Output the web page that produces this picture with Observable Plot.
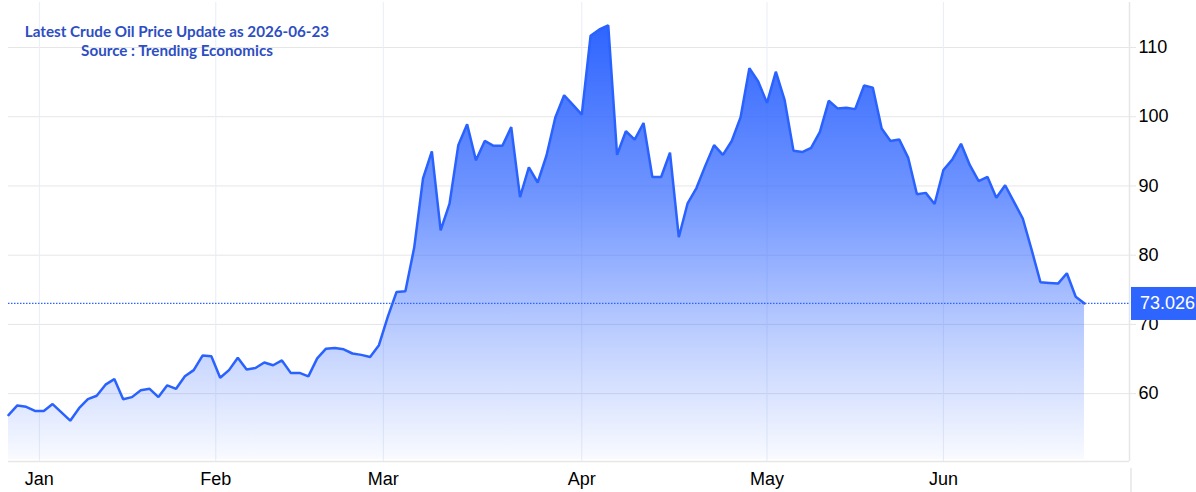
<!DOCTYPE html>
<html>
<head>
<meta charset="utf-8">
<script src="https://cdn.jsdelivr.net/npm/d3@7"></script>
<script src="https://cdn.jsdelivr.net/npm/@observablehq/plot@0.6"></script>
<style>
  html, body { margin: 0; padding: 0; background: #fff; }
  #chart { width: 1196px; height: 492px; }
</style>
</head>
<body>
<div id="chart"></div>
<script>
// Daily crude oil prices (trading days, late Dec 2025 – 2026-06-23)
const prices = [
  56.9, 58.3, 58.1, 57.5, 57.5, 58.5, 57.3, 56.1, 57.9, 59.2,
  59.7, 61.3, 62.1, 59.2, 59.5, 60.5, 60.7, 59.5, 61.2, 60.7,
  62.5, 63.4, 65.5, 65.4, 62.3, 63.4, 65.2, 63.5, 63.7, 64.5,
  64.1, 64.8, 63.0, 63.0, 62.5, 65.1, 66.5, 66.6, 66.4, 65.8,
  65.6, 65.3, 67.0, 71.1, 74.7, 74.8, 81.1, 91.1, 95.0, 83.6,
  87.4, 95.9, 98.9, 93.7, 96.5, 95.8, 95.8, 98.5, 88.4, 92.7,
  90.5, 94.4, 99.9, 103.1, 101.7, 100.3, 111.7, 112.6, 113.2, 94.5,
  97.9, 96.7, 99.1, 91.3, 91.3, 94.8, 82.6, 87.5, 89.7, 92.9,
  95.9, 94.5, 96.5, 99.9, 107.0, 105.1, 102.0, 106.5, 102.4, 95.1,
  94.9, 95.5, 97.8, 102.3, 101.2, 101.3, 101.1, 104.5, 104.2, 98.3,
  96.5, 96.7, 94.1, 88.8, 89.0, 87.4, 92.3, 93.8, 96.1, 93.0,
  90.7, 91.3, 88.3, 90.1, 87.7, 85.3, 80.8, 76.1, 76.0, 75.9,
  77.4, 74.0, 73.026
];
// month boundaries on the ordinal (trading-day index) axis
const monthTicks = [3.5, 23.5, 42.5, 65, 86, 106];
const monthLabels = ["Jan", "Feb", "Mar", "Apr", "May", "Jun"];
const yTicks = [60, 70, 80, 90, 100, 110];
const titleLines = ["Latest Crude Oil Price Update as 2026-06-23", "Source : Trending Economics"];
const lastLabel = "73.026";

const data = prices.map((v, i) => ({i, v}));
const lastValue = prices[prices.length - 1];
const xMax = 127.1;
const yMin = 50.2;
const blue = "#2962ff";
const monthOf = new Map(monthTicks.map((t, i) => [t, monthLabels[i]]));

const defs = () => {
  const d = d3.create("svg:defs");
  const g = d.append("linearGradient").attr("id", "oilGrad")
    .attr("x1", 0).attr("y1", 0).attr("x2", 0).attr("y2", 1);
  [[0, 1], [0.4, 0.68], [0.75, 0.28], [1, 0.03]].forEach(([o, a]) =>
    g.append("stop").attr("offset", o).attr("stop-color", "#2f65ff").attr("stop-opacity", a));
  return d.node();
};

const lastBox = (index, scales, values, dims) => {
  const g = d3.create("svg:g");
  const y = scales.y(lastValue);
  const x0 = scales.x(xMax) + 2;
  g.append("rect").attr("x", x0).attr("y", y - 16).attr("width", dims.width - x0 + 5)
    .attr("height", 33).attr("fill", "#2f65ff");
  g.append("text").attr("x", x0 + 9).attr("y", y).attr("dy", "0.35em")
    .attr("text-anchor", "start")
    .attr("fill", "#fff").attr("font-size", 18)
    .attr("font-family", "'Liberation Sans', Arial, sans-serif").text(lastLabel);
  g.append("line").attr("x1", x0).attr("x2", x0)
    .attr("y1", dims.height - 24).attr("y2", dims.height)
    .attr("stroke", "#e6e6e6").attr("stroke-width", 1.5);
  return g.node();
};

const titleStyle = {frameAnchor: "top-left", dx: 168.5, textAnchor: "middle", lineAnchor: "middle",
  fontFamily: "Lato", fontWeight: "bold", fontSize: 15.2, fill: "#2d4ec2"};

const chart = Plot.plot({
  width: 1196,
  height: 492,
  marginLeft: 8,
  marginRight: 67,
  marginTop: 2,
  marginBottom: 31,
  x: {domain: [0, xMax]},
  y: {domain: [yMin, 116.5]},
  style: {fontFamily: "'Liberation Sans', Arial, sans-serif", color: "#000", background: "#fff", overflow: "visible"},
  marks: [
    defs,
    Plot.gridY(yTicks, {stroke: "#e6e6e6", strokeOpacity: 1}),
    Plot.gridX(monthTicks, {stroke: "#e8edf6", strokeOpacity: 1}),
    Plot.areaY(data, {x: "i", y1: 50.5, y2: "v", fill: "url(#oilGrad)"}),
    Plot.lineY(data, {x: "i", y: "v", stroke: blue, strokeWidth: 2.5, strokeLinejoin: "miter"}),
    Plot.ruleY([yMin], {stroke: "#e6e6e6", strokeWidth: 1.5}),
    Plot.ruleX([xMax], {stroke: "#e6e6e6", strokeWidth: 1.5}),
    Plot.ruleY([lastValue], {x1: 0, x2: xMax, stroke: "#2f65ff", strokeWidth: 1.2, strokeDasharray: "1.5,1.5"}),
    Plot.axisY(yTicks, {anchor: "right", tickSize: 6, tickPadding: 3, fontSize: 18, stroke: "#e6e6e6", label: null}),
    Plot.axisX(monthTicks, {anchor: "bottom", tickSize: 0, tickPadding: 11, fontSize: 18, tickFormat: d => monthOf.get(d), label: null}),
    Plot.text([titleLines[0]], {...titleStyle, dy: 30}),
    Plot.text([titleLines[1]], {...titleStyle, dy: 49}),
    lastBox
  ]
});
document.getElementById("chart").appendChild(chart);
</script>
</body>
</html>
